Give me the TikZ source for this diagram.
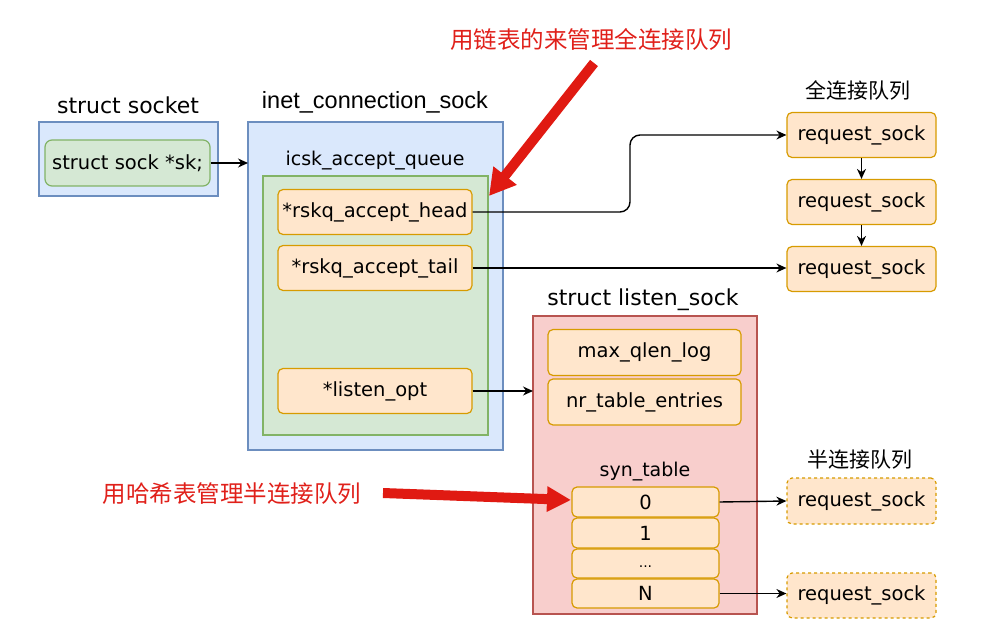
\documentclass[tikz,border=0pt]{standalone}
\usepackage{fontspec}
\setmainfont{DejaVu Sans}
\setsansfont{Liberation Sans}
\newfontfamily\cjk{Noto Sans CJK SC}
\usetikzlibrary{arrows.meta,calc}
\definecolor{bluefill}{HTML}{DAE8FC}
\definecolor{bluedraw}{HTML}{6C8EBF}
\definecolor{greenfill}{HTML}{D5E8D4}
\definecolor{greendraw}{HTML}{82B366}
\definecolor{orfill}{HTML}{FFE6CC}
\definecolor{ordraw}{HTML}{D79B00}
\definecolor{redfill}{HTML}{F8CECC}
\definecolor{reddraw}{HTML}{B85450}
\definecolor{bigred}{HTML}{E01A12}
\definecolor{redtext}{HTML}{E0201A}
\begin{document}
\begin{tikzpicture}[x=1pt,y=-1pt,
  bluebox/.style={draw=bluedraw,fill=bluefill,line width=1.2pt},
  greenbox/.style={draw=greendraw,fill=greenfill,line width=1.2pt},
  redbox/.style={draw=reddraw,fill=redfill,line width=1.2pt},
  field/.style={draw=ordraw,fill=orfill,rounded corners=5pt,line width=1.2pt,inner sep=0pt,font=\fontsize{19.5}{22}\selectfont},
  dfield/.style={field,dashed},
  gfield/.style={draw=greendraw,fill=greenfill,rounded corners=7pt,line width=1.2pt,inner sep=0pt,font=\fontsize{19.5}{22}\selectfont},
  ttl/.style={font=\fontsize{22}{24}\selectfont},
  plain/.style={font=\fontsize{19}{22}\selectfont},
  cn/.style={font=\cjk\fontsize{21}{23}\selectfont},
  cnred/.style={font=\cjk\fontsize{23.5}{26}\selectfont,text=redtext},
  conn/.style={-{Stealth[length=10pt,width=9pt]},line width=1.4pt},
  bigarrow/.style={draw=bigred,line width=10pt,-{Triangle[length=26pt,width=28pt]}}
]
\useasboundingbox (0,0) rectangle (993,628);
% struct socket
\node[ttl] (tsocket) at (128,105) {struct socket};
\draw[bluebox] (39,122) rectangle (218,196);
\node[gfield,minimum width=165pt,minimum height=46pt] (sk) at (127.5,163) {struct sock *sk;};
% inet_connection_sock
\node[font=\sffamily\fontsize{23.5}{26}\selectfont] (ticsk) at (375,102) {inet\_connection\_sock};
\draw[bluebox] (248,122) rectangle (503,450);
\coordinate (icskleft) at (248,163);
\node[plain] (tq) at (375,161) {icsk\_accept\_queue};
\draw[greenbox] (263,176) rectangle (488,435);
\node[field,minimum width=194pt,minimum height=45pt] (head) at (375,212) {*rskq\_accept\_head};
\node[field,minimum width=194pt,minimum height=45pt] (tail) at (375,268) {*rskq\_accept\_tail};
\node[field,minimum width=194pt,minimum height=45pt] (lopt) at (375,391) {*listen\_opt};
% full queue
\node[cn] (tfull) at (858,90) {全连接队列};
\node[field,minimum width=149pt,minimum height=45pt] (r1) at (861.5,135) {request\_sock};
\node[field,minimum width=149pt,minimum height=45pt] (r2) at (861.5,202) {request\_sock};
\node[field,minimum width=149pt,minimum height=45pt] (r3) at (861.5,269) {request\_sock};
% listen_sock
\node[ttl] (tls) at (643,300) {struct listen\_sock};
\draw[redbox] (533,316) rectangle (757,614);
\coordinate (lsleft) at (533,391);
\node[field,minimum width=193pt,minimum height=46pt] (mql) at (644.5,352.5) {max\_qlen\_log};
\node[field,minimum width=193pt,minimum height=46pt] (nte) at (644.5,402) {nr\_table\_entries};
\node[plain] (tsyn) at (645,472) {syn\_table};
\node[field,minimum width=147pt,minimum height=30pt] (s0) at (645.5,502) {0};
\node[field,minimum width=147pt,minimum height=30pt] (s1) at (645.5,533) {1};
\node[field,minimum width=147pt,minimum height=29pt] (s2) at (645.5,563.5) {};
\node[font=\fontsize{14}{16}\selectfont] at (645.5,567) {...};
\node[field,minimum width=147pt,minimum height=29pt] (sN) at (645.5,593.5) {N};
% half queue
\node[cn] (thalf) at (860,460) {半连接队列};
\node[dfield,minimum width=149pt,minimum height=46pt] (h1) at (861.5,501) {request\_sock};
\node[dfield,minimum width=149pt,minimum height=45pt] (h2) at (861.5,595.5) {request\_sock};
% connectors
\draw[conn] (sk.east) -- (icskleft);
\draw[conn,rounded corners=10pt] (head.east) -- (630,212) -- (630,135) -- (r1.west);
\draw[conn] (tail.east) -- (r3.west |- tail.east);
\draw[conn] (r1) -- (r2);
\draw[conn] (r2) -- (r3);
\draw[conn] (lopt.east) -- (lsleft);
\draw[conn] (s0.east) -- (h1.west);
\draw[conn] (sN.east) -- (h2.west |- sN.east);
% red annotations
\node[cnred] (note1) at (591,40) {用链表的来管理全连接队列};
\node[cnred] (note2) at (232,494) {用哈希表管理半连接队列};
\coordinate (a1s) at (594,63);
\coordinate (a1e) at (489,196);
\coordinate (a2s) at (383,493);
\coordinate (a2e) at (571,500);
\draw[bigarrow] (a1s) -- (a1e);
\draw[bigarrow,-{Triangle[length=24pt,width=24pt]}] (a2s) -- (a2e);
\end{tikzpicture}
\end{document}
